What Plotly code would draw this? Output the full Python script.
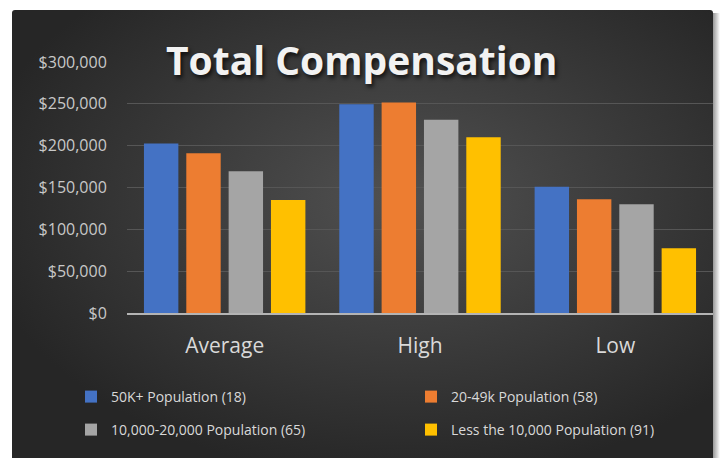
import base64
import plotly.graph_objects as go

# ---- data ----
categories = ["Average", "High", "Low"]
series_names = [
    "50K+ Population (18)",
    "20-49k Population (58)",
    "10,000-20,000 Population (65)",
    "Less the 10,000 Population (91)",
]
pop_50k_plus = [202500, 249500, 151000]
pop_20_49k = [191000, 251500, 136000]
pop_10k_20k = [169500, 231000, 130000]
pop_less_10k = [135000, 210000, 77500]
y_tick_values = [0, 50000, 100000, 150000, 200000, 250000, 300000]
y_tick_labels = ["$0", "$50,000", "$100,000", "$150,000", "$200,000", "$250,000", "$300,000"]

colors = ["#4472C4", "#ED7D31", "#A5A5A5", "#FFC000"]
values = [pop_50k_plus, pop_20_49k, pop_10k_20k, pop_less_10k]

W, H = 720, 458
ML, MR, MT, MB = 127, 7, 62, 145
PW, PH = W - ML - MR, H - MT - MB

def px_x(px):
    return (px - ML) / PW

def px_y(py):
    return (H - MB - py) / PH

svg = f'''<svg xmlns="http://www.w3.org/2000/svg" width="{W}" height="{H}" viewBox="0 0 {W} {H}" preserveAspectRatio="none">
<defs>
<radialGradient id="g" cx="0.56" cy="0.42" r="0.62">
<stop offset="0" stop-color="#515151"/><stop offset="1" stop-color="#262626"/></radialGradient>
<linearGradient id="s" x1="0" x2="1" y1="0" y2="0">
<stop offset="0" stop-color="#7a7a7a"/><stop offset="1" stop-color="#ffffff"/></linearGradient>
</defs>
<rect width="{W}" height="{H}" fill="#ffffff"/>
<rect x="711" y="13" width="9" height="445" fill="url(#s)"/>
<rect x="12" y="10" width="701" height="452" rx="3" fill="url(#g)"/>
</svg>'''
src = "data:image/svg+xml;base64," + base64.b64encode(svg.encode()).decode()

fig = go.Figure()
legend_ids = ["legend", "legend2", "legend3", "legend4"]
for name, vals, col, lid in zip(series_names, values, colors, legend_ids):
    fig.add_trace(go.Bar(
        x=categories, y=vals, name=name,
        marker=dict(color=col, line=dict(width=0)),
        legend=lid,
    ))

leg_font = dict(family="Open Sans", size=14, color="#d9d9d9")
leg_pos = [(71, 397), (411, 397), (71, 430), (411, 430)]
legends = {}
for lid, (lx, ly) in zip(legend_ids, leg_pos):
    legends[lid] = dict(
        x=px_x(lx), y=px_y(ly), xanchor="left", yanchor="middle",
        bgcolor="rgba(0,0,0,0)", font=leg_font, orientation="v",
    )

fig.update_layout(
    width=W, height=H,
    margin=dict(l=ML, r=MR, t=MT, b=MB, pad=0),
    paper_bgcolor="#ffffff",
    plot_bgcolor="rgba(0,0,0,0)",
    barmode="group",
    bargap=0.133,
    bargroupgap=0.187,
    showlegend=True,
    images=[dict(
        source=src, xref="paper", yref="paper",
        x=px_x(0), y=px_y(0), sizex=W / PW, sizey=H / PH,
        xanchor="left", yanchor="top", sizing="stretch", layer="below",
    )],
    annotations=[dict(
        text="Total Compensation", xref="paper", yref="paper",
        x=px_x(361), y=px_y(59), xanchor="center", yanchor="middle",
        showarrow=False,
        font=dict(family="Open Sans", size=39, color="#f2f2f2", weight="bold",
                  shadow="2px 3px 4px rgba(0,0,0,0.7)"),
    )],
    xaxis=dict(
        showgrid=False, zeroline=False,
        showline=True, linecolor="#b4b4b4", linewidth=2,
        ticks="outside", ticklen=13, tickcolor="rgba(0,0,0,0)",
        tickfont=dict(family="Open Sans", size=21, color="#d9d9d9"),
        fixedrange=True,
    ),
    yaxis=dict(
        range=[0, 300000],
        tickvals=y_tick_values, ticktext=y_tick_labels,
        showgrid=True, gridcolor="#565656", gridwidth=1,
        zeroline=False, showline=False,
        ticks="outside", ticklen=16, tickcolor="rgba(0,0,0,0)",
        tickfont=dict(family="Open Sans", size=16, color="#c8c8c8"),
        fixedrange=True,
    ),
    **legends,
)

fig.write_html("out.html")
